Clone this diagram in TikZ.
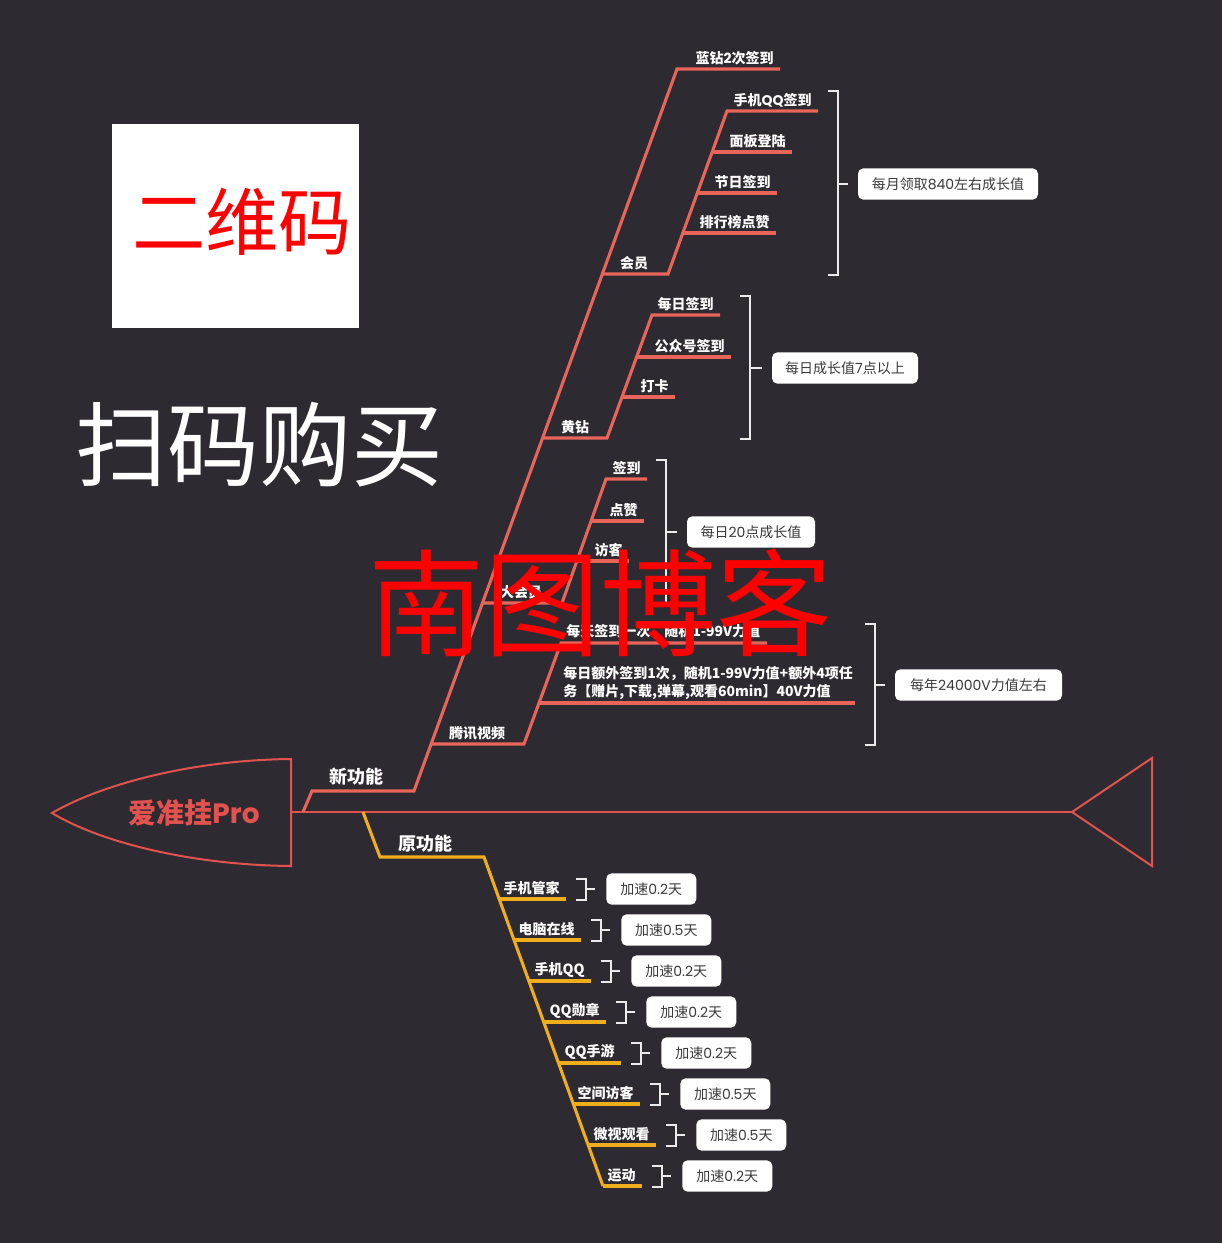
\documentclass[tikz,border=0pt]{standalone}
\usepackage{fontspec}
\setmainfont{Noto Sans CJK SC}
\newfontfamily\pop{Poppins}
\usetikzlibrary{calc}
\definecolor{bg}{HTML}{2E2A31}
\definecolor{br}{HTML}{E9655A}
\definecolor{fish}{HTML}{E2524E}
\definecolor{yl}{HTML}{F0AE1C}
\definecolor{txtd}{HTML}{3A3A3A}
\begin{document}
\begin{tikzpicture}[x=0.75pt,y=-0.75pt,
  redline/.style={draw=br,line width=2.3pt},
  ylline/.style={draw=yl,line width=2.3pt},
  fishline/.style={draw=fish,line width=1.5pt},
  brk/.style={draw=white!92!black,line width=1.5pt},
  lbl/.style={text=white,font=\fontsize{10.5}{13.5}\selectfont\bfseries,inner sep=0pt},
  biglbl/.style={text=white,font=\fontsize{13.5}{16}\selectfont\bfseries,inner sep=0pt},
  sumbox/.style={fill=white,rounded corners=4pt,text=txtd,font=\fontsize{10.5}{12}\selectfont,minimum height=23.5pt,inner sep=0pt}]
\fill[bg] (0,0) rectangle (1222,1243);
\useasboundingbox (0,0) rectangle (1222,1243);

% QR placeholder and purchase text
\node[fill=white,minimum width=185.25pt,minimum height=153pt,inner sep=0pt] (qr) at (235.5,226) {};
\node[text=red,font=\fontsize{55}{60}\selectfont] (qrt) at (242,222) {二维码};
\node[text=white,font=\fontsize{69}{75}\selectfont] (buy) at (259,445) {扫码购买};

% fish head, spine, tail
\coordinate (hr1) at (291,759);
\coordinate (hp) at (52,813);
\coordinate (hr2) at (291,866);
\draw[fishline] (hr1) .. controls (190,760) and (100,785) .. (hp) .. controls (100,842) and (190,865) .. (hr2) -- cycle;
\node[text=fish,font=\fontsize{21}{24}\selectfont\bfseries] (head) at (194,813) {爱准挂{\pop Pro}};
\coordinate (sp0) at (291,812);
\coordinate (sp1) at (1072,812);
\coordinate (t1) at (1152,758);
\coordinate (t2) at (1152,866);
\draw[draw=fish,line width=2pt] (sp0) -- (sp1);
\draw[fishline] (sp1) -- (t1) -- (t2) -- cycle;

% ---------- new functions (red) ----------
\coordinate (n0) at (303,812);
\coordinate (n1) at (312,791);
\coordinate (n2) at (414,791);
\coordinate (ntop) at (677,69);
\coordinate (lz) at (780,69);
\draw[redline] (n0) -- (n1) -- (n2) -- (ntop) -- (lz);
\node[biglbl] (xgn) at (356,777) {新功能};
\node[lbl,anchor=east] (lzl) at ($(lz)+(-6,-11)$) {蓝钻{\pop 2}次签到};

% 会员
\coordinate (hy0) at (601,274);
\coordinate (hy1) at (668,274);
\coordinate (hytop) at (727,111);
\draw[redline] (hy0) -- (hy1) -- (hytop) -- (818,111) coordinate (hye1);
\node[lbl] (hyl) at (634,263) {会员};
\node[lbl,anchor=east] (hyl1) at ($(hye1)+(-6,-11)$) {手机{\pop QQ}签到};
\coordinate (hys2) at (712,152); \coordinate (hye2) at (792,152);
\coordinate (hys3) at (697,193); \coordinate (hye3) at (777,193);
\coordinate (hys4) at (683,233); \coordinate (hye4) at (776,233);
\draw[redline] (hys2) -- (hye2);
\draw[redline] (hys3) -- (hye3);
\draw[redline] (hys4) -- (hye4);
\node[lbl,anchor=east] (hyl2) at ($(hye2)+(-6,-11)$) {面板登陆};
\node[lbl,anchor=east] (hyl3) at ($(hye3)+(-6,-11)$) {节日签到};
\node[lbl,anchor=east] (hyl4) at ($(hye4)+(-6,-11)$) {排行榜点赞};
\draw[brk] (828,91) -- (838,91) -- (838,275) -- (828,275);
\node[sumbox,minimum width=135pt] (hyb) at (948,184) {每月领取{\pop 840}左右成长值};
\draw[brk] (838,184) -- ($(hyb.west)+(-10,0)$);

% 黄钻
\coordinate (hz0) at (542,438);
\coordinate (hz1) at (607,438);
\coordinate (hztop) at (652,315);
\draw[redline] (hz0) -- (hz1) -- (hztop) -- (720,315) coordinate (hze1);
\node[lbl] (hzl) at (575,427) {黄钻};
\node[lbl,anchor=east] (hzl1) at ($(hze1)+(-6,-11)$) {每日签到};
\coordinate (hzs2) at (636,357); \coordinate (hze2) at (731,357);
\coordinate (hzs3) at (622,397); \coordinate (hze3) at (675,397);
\draw[redline] (hzs2) -- (hze2);
\draw[redline] (hzs3) -- (hze3);
\node[lbl,anchor=east] (hzl2) at ($(hze2)+(-6,-11)$) {公众号签到};
\node[lbl,anchor=east] (hzl3) at ($(hze3)+(-6,-11)$) {打卡};
\draw[brk] (740,296) -- (750,296) -- (750,439) -- (740,439);
\node[sumbox,minimum width=109.5pt] (hzb) at (845,368) {每日成长值{\pop 7}点以上};
\draw[brk] (750,368) -- ($(hzb.west)+(-10,0)$);

% 大会员
\coordinate (dh0) at (482,603);
\coordinate (dh1) at (562,603);
\coordinate (dhtop) at (606,479);
\draw[redline] (dh0) -- (dh1) -- (dhtop) -- (647,479) coordinate (dhe1);
\node[lbl] (dhl) at (521,592) {大会员};
\node[lbl,anchor=east] (dhl1) at ($(dhe1)+(-6,-11)$) {签到};
\coordinate (dhs2) at (592,521); \coordinate (dhe2) at (644,521);
\coordinate (dhs3) at (577,561); \coordinate (dhe3) at (629,561);
\draw[redline] (dhs2) -- (dhe2);
\draw[redline] (dhs3) -- (dhe3);
\node[lbl,anchor=east] (dhl2) at ($(dhe2)+(-6,-11)$) {点赞};
\node[lbl,anchor=east] (dhl3) at ($(dhe3)+(-6,-11)$) {访客};
\draw[brk] (656,460) -- (666,460) -- (666,604) -- (656,604);
\node[sumbox,minimum width=96pt] (dhb) at (751,532) {每日{\pop 20}点成长值};
\draw[brk] (666,532) -- ($(dhb.west)+(-10,0)$);

% 腾讯视频
\coordinate (tx0) at (431,744);
\coordinate (tx1) at (524,744);
\coordinate (txtop) at (561,643);
\draw[redline] (tx0) -- (tx1) -- (txtop) -- (767,643) coordinate (txe1);
\node[lbl] (txl) at (477,733) {腾讯视频};
\node[lbl,anchor=west] (txl1) at (566,632) {每天签到一次，随机1-99V力值};
\coordinate (txs2) at (539,703); \coordinate (txe2) at (855,703);
\draw[redline] (txs2) -- (txe2);
\node[lbl,anchor=west,align=left] (txl2) at (563,683) {每日额外签到1次，随机1-99V力值+额外4项任\\务【赠片,下载,弹幕,观看60min】40V力值};
\draw[brk] (865,624) -- (875,624) -- (875,745) -- (865,745);
\node[sumbox,minimum width=125.25pt] (txb) at (978.5,685) {每年{\pop 24000V}力值左右};
\draw[brk] (875,685) -- ($(txb.west)+(-10,0)$);

% ---------- original functions (yellow) ----------
\coordinate (y0) at (363,812);
\coordinate (y1) at (380,857);
\coordinate (y2) at (484,857);
\coordinate (y3) at (603,1186);
\draw[ylline] (y0) -- (y1) -- (y2) -- (y3);
\node[biglbl] (ygn) at (425,844) {原功能};
\foreach \i/\t/\e/\v in {0/手机管家/566/0.2, 1/电脑在线/581/0.5, 2/手机QQ/591/0.2, 3/QQ勋章/606/0.2, 4/QQ手游/621/0.2, 5/空间访客/640/0.5, 6/微视观看/656/0.5, 7/运动/642/0.2}{
  \pgfmathsetmacro\yy{899+41*\i}
  \pgfmathsetmacro\xx{484+(\yy-857)*0.3625}
  \coordinate (ys\i) at (\xx,\yy);
  \coordinate (ye\i) at (\e,\yy);
  \draw[ylline] (ys\i) -- (ye\i);
  \node[lbl,anchor=east] (yl\i) at ($(ye\i)+(-6,-11)$) {\t};
  \draw[brk] ($(ye\i)+(10,-20)$) -- ($(ye\i)+(20,-20)$) -- ($(ye\i)+(20,1)$) -- ($(ye\i)+(10,1)$);
  \node[sumbox,minimum width=67.5pt,anchor=west] (yb\i) at ($(ye\i)+(40,-10)$) {加速{\pop\v}天};
  \draw[brk] ($(ye\i)+(20,-10)$) -- ($(yb\i.west)+(-11,0)$);
}

% watermark
\node[text=red,font=\fontsize{87}{90}\selectfont] (wm) at (600,603) {南图博客};
\end{tikzpicture}
\end{document}
